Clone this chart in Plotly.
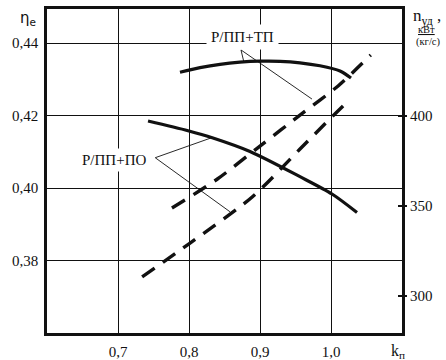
import plotly.graph_objects as go

# ---- data ----
k_tp_eff = [0.7873, 0.8155, 0.8437, 0.8718, 0.9000, 0.9282, 0.9563, 0.9845, 1.0127, 1.0282]
eta_tp = [0.43192, 0.43319, 0.43412, 0.43470, 0.43498, 0.43495, 0.43454, 0.43371, 0.43228, 0.43034]

k_po_eff = [0.7423, 0.7986, 0.8338, 0.8859, 0.9563, 1.0014, 1.0366]
eta_po = [0.41848, 0.41581, 0.41379, 0.41007, 0.40312, 0.39834, 0.39324]

k_tp_n = [0.776, 0.840, 0.900, 0.960, 1.010, 1.056]
n_tp = [348.9, 365.0, 383.3, 401.6, 416.7, 433.9]

k_po_n = [0.734, 0.800, 0.889, 0.956, 1.001, 1.017]
n_po = [310.6, 329.0, 355.0, 381.5, 399.4, 405.6]

x_ticks = [0.7, 0.8, 0.9, 1.0]
eta_ticks = [0.38, 0.40, 0.42, 0.44]
n_ticks = [300, 350, 400]

label_tp = "Р/ПП+ТП"
label_po = "Р/ПП+ПО"

SERIF = "Liberation Serif"
INK = "#111111"

W, H = 446, 360
L, R, T, B = 47, 44, 9, 27

fig = go.Figure()
solid = dict(color=INK, width=3.2, shape="spline", smoothing=0.8)
dashed = dict(color=INK, width=3.4, dash="15px,10px", shape="spline", smoothing=0.8)

fig.add_trace(go.Scatter(x=k_tp_eff, y=eta_tp, mode="lines", line=solid,
                         yaxis="y", showlegend=False, hoverinfo="skip"))
fig.add_trace(go.Scatter(x=k_po_eff, y=eta_po, mode="lines", line=solid,
                         yaxis="y", showlegend=False, hoverinfo="skip"))
fig.add_trace(go.Scatter(x=k_tp_n, y=n_tp, mode="lines", line=dashed,
                         yaxis="y2", showlegend=False, hoverinfo="skip"))
fig.add_trace(go.Scatter(x=k_po_n, y=n_po, mode="lines", line=dashed,
                         yaxis="y2", showlegend=False, hoverinfo="skip"))
# trace that makes the inner-tick copy of the right axis render
fig.add_trace(go.Scatter(x=[None], y=[None], yaxis="y3", showlegend=False, hoverinfo="skip"))

# leader lines (thin) for the curve labels
lead = dict(color=INK, width=0.9)
shapes = [
    dict(type="line", xref="x", yref="y", x0=0.8732, y0=0.4381, x1=0.8770, y1=0.4350, line=lead),
    dict(type="line", xref="x", yref="y2", x0=0.8732, y0=436.7, x1=0.9732, y1=409.4, line=lead),
    dict(type="line", xref="x", yref="y", x0=0.7525, y0=0.40836, x1=0.832, y1=0.41388, line=lead),
    dict(type="line", xref="x", yref="y2", x0=0.7525, y0=376.8, x1=0.8577, y1=346.8, line=lead),
]


def px(x, y):
    return (x - L) / (W - L - R), 1 - (y - T) / (H - T - B)


annotations = [
    dict(x=0.876, y=0.4417, xref="x", yref="y", text=label_tp, showarrow=False,
         bgcolor="white", borderpad=4, font=dict(family=SERIF, size=15, color=INK)),
    dict(x=0.695, y=0.4077, xref="x", yref="y", text=label_po, showarrow=False,
         bgcolor="white", borderpad=3, font=dict(family=SERIF, size=15, color=INK)),
]
captions = [
    # (x, y, text, family, size, xanchor, yanchor)
    (28, 18, "η<sub>e</sub>", "DejaVu Sans", 15, "center", "middle"),
    (412, 29, "n<sub>уд</sub> ,", SERIF, 17, "left", "bottom"),
    (427, 36, "<u>кВт</u>", SERIF, 10.5, "center", "bottom"),
    (428, 35, "(кг/с)", SERIF, 10.5, "center", "top"),
    (398, 351, "k<sub>п</sub>", SERIF, 16, "center", "middle"),
]
for cx, cy, txt, fam, sz, xa, ya in captions:
    X, Y = px(cx, cy)
    annotations.append(dict(x=X, y=Y, xref="paper", yref="paper", text=txt, showarrow=False,
                            xanchor=xa, yanchor=ya, borderpad=0,
                            font=dict(family=fam, size=sz, color=INK)))

tickfont = dict(family=SERIF, size=15, color=INK)
fig.update_layout(
    width=W, height=H,
    margin=dict(l=L, r=R, t=T, b=B, pad=0, autoexpand=False),
    paper_bgcolor="white", plot_bgcolor="white",
    separators=", ",
    shapes=shapes,
    annotations=annotations,
    xaxis=dict(range=[0.6, 1.1], tickvals=x_ticks, tickformat=".1f", automargin=False,
               showgrid=True, gridcolor=INK, gridwidth=1.2,
               showline=True, linecolor=INK, linewidth=2.6, mirror=True,
               ticks="outside", ticklen=3, tickcolor="rgba(0,0,0,0)",
               tickfont=tickfont, zeroline=False, fixedrange=True),
    yaxis=dict(range=[0.36, 0.44938], tickvals=eta_ticks, tickformat=".2f", automargin=False,
               showgrid=True, gridcolor=INK, gridwidth=1.2,
               showline=True, linecolor=INK, linewidth=2.6, mirror=True,
               ticks="outside", ticklen=3, tickcolor="rgba(0,0,0,0)",
               tickfont=tickfont, zeroline=False, fixedrange=True),
    yaxis2=dict(range=[279.44, 459.44], tickvals=n_ticks, overlaying="y", side="right",
                anchor="x", automargin=False,
                showgrid=False, showline=False, zeroline=False,
                ticks="outside", ticklen=4, tickwidth=1.5, tickcolor=INK,
                tickfont=tickfont, fixedrange=True),
    yaxis3=dict(range=[279.44, 459.44], tickvals=n_ticks, overlaying="y", side="right",
                anchor="x", automargin=False, showgrid=False, showline=False, zeroline=False,
                ticks="inside", ticklen=4, tickwidth=1.5, tickcolor=INK,
                showticklabels=False, fixedrange=True),
)

fig.write_html("out.html", config={"displayModeBar": False},
               post_script="document.body.style.margin='0';document.body.style.overflow='hidden';")
